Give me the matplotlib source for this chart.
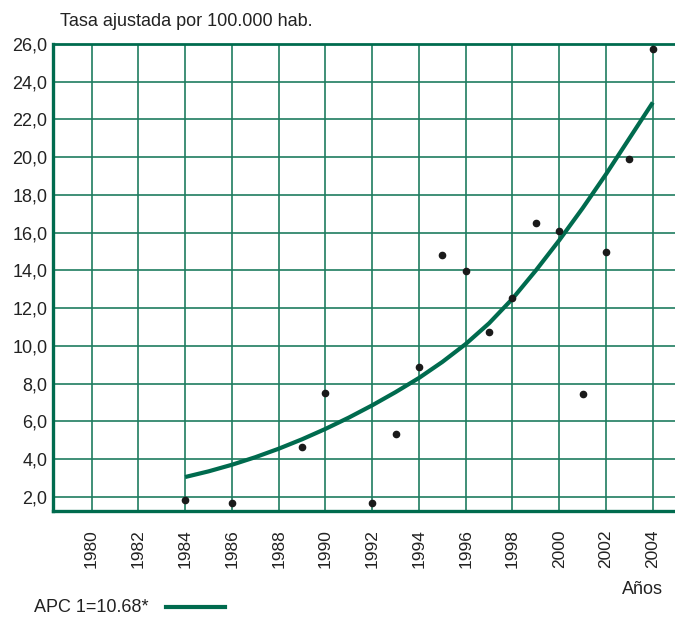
import matplotlib.pyplot as plt
import numpy as np

plt.rcParams['font.family'] = ['Liberation Sans', 'DejaVu Sans']

# observed adjusted rates per year
years = [1984, 1986, 1989, 1990, 1992, 1993, 1994, 1995, 1996, 1997,
         1998, 1999, 2000, 2001, 2002, 2003, 2004]
rates = [1.84, 1.68, 4.65, 7.5, 1.68, 5.34, 8.9, 14.82, 13.97, 10.73,
         12.56, 16.52, 16.1, 7.47, 15.0, 19.9, 25.75]

# fitted trend (APC 10.68%)
fit_years = list(range(1984, 2005))
fit_rates = [3.05, 3.35, 3.7, 4.1, 4.55, 5.05, 5.6, 6.2, 6.85, 7.55, 8.3,
             9.15, 10.1, 11.2, 12.5, 14.0, 15.6, 17.3, 19.1, 21.0, 22.9]

xticks = list(range(1980, 2005, 2))
yticks = list(range(2, 27, 2))

green = '#006b4e'
grid_green = '#1f7d60'
txt = '#222222'

fig = plt.figure(figsize=(6.75, 6.17), dpi=100)
ax = fig.add_axes([53/675, 1 - 511/617, 1 - 53/675, (511 - 44)/617])

ax.set_xlim(1978.35, 2004.95)
ax.set_ylim(1.25, 26)

ax.set_xticks(xticks)
ax.set_yticks(yticks)
ax.set_xticklabels([str(x) for x in xticks], rotation=90, fontsize=12.5)
ax.set_yticklabels([f'{y:.1f}'.replace('.', ',') for y in yticks], fontsize=13)
ax.tick_params(length=0, pad=4, colors=txt)
ax.tick_params(axis='x', pad=13)

ax.grid(True, color=grid_green, linewidth=1.2)
ax.set_axisbelow(True)

for side in ['left', 'bottom', 'top']:
    ax.spines[side].set_color(green)
ax.spines['left'].set_linewidth(2.4)
ax.spines['bottom'].set_linewidth(2.4)
ax.spines['top'].set_linewidth(2.0)
ax.spines['right'].set_visible(False)

ax.plot(fit_years, fit_rates, color=green, linewidth=3, solid_capstyle='butt', zorder=3)
ax.plot(years, rates, 'o', color='#1a1a1a', markersize=4.5, zorder=4)

fig.text(60/675, 1 - 21/617, 'Tasa ajustada por 100.000 hab.', fontsize=13,
         color=txt, va='center', ha='left')
fig.text(663/675, 1 - 589/617, 'Años', fontsize=13, color=txt,
         va='center', ha='right')
fig.text(34/675, 1 - 608/617, 'APC 1=10.68*', fontsize=13, color=txt,
         va='center', ha='left')
fig.add_artist(plt.Line2D([166/675, 225/675], [1 - 607/617, 1 - 607/617],
                          color=green, linewidth=3, transform=fig.transFigure))

fig.savefig('out.png', dpi=100)
